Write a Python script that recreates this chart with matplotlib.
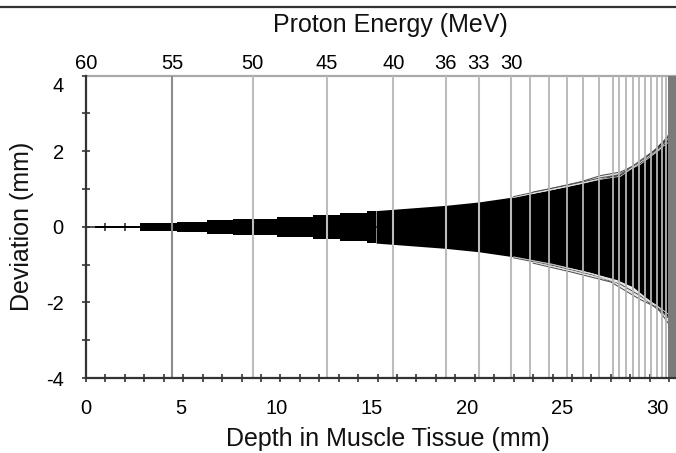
import numpy as np
import matplotlib
matplotlib.use('Agg')
import matplotlib.pyplot as plt
from matplotlib.transforms import ScaledTranslation
from matplotlib.lines import Line2D

plt.rcParams['font.family'] = ['Liberation Sans', 'DejaVu Sans']

# ---------------- data ----------------
energy_labels = ['60', '55', '50', '45', '40', '36', '33', '30']
energy_depths = [0.0, 4.42, 8.58, 12.40, 15.81, 18.50, 20.20, 21.88]
extra_line_depths = [22.84, 23.82, 24.73, 25.58, 26.40, 27.09, 27.43, 27.78,
                     28.12, 28.46, 28.77, 29.06, 29.36, 29.63, 29.84]

# stepped envelope of the beam (early part)
step_edges = [0.46, 2.78, 4.68, 6.22, 7.56, 9.83, 11.68, 13.07, 14.45, 14.92]
step_half = [0.03, 0.105, 0.13, 0.18, 0.21, 0.26, 0.32, 0.37, 0.43]

# smooth envelope (later part)
smooth_depth = [14.92, 18.52, 20.22, 21.96, 23.82, 25.57, 27.26, 28.14, 29.17, 29.84, 29.95]
smooth_half = [0.43, 0.57, 0.66, 0.79, 0.97, 1.16, 1.39, 1.59, 2.03, 2.38, 2.40]

# a few outer trajectories
traj_up1_d = [22.0, 24.0, 25.5, 26.5, 27.5, 28.5, 29.5, 29.95]
traj_up1_v = [0.80, 1.02, 1.20, 1.36, 1.45, 1.70, 2.10, 2.42]
traj_up2_d = [23.0, 25.0, 26.5, 27.5, 28.5, 29.3, 29.95]
traj_up2_v = [0.92, 1.13, 1.30, 1.38, 1.75, 2.05, 2.30]
traj_lo1_d = [22.0, 24.0, 26.0, 27.5, 28.5, 29.5, 29.95]
traj_lo1_v = [-0.82, -1.02, -1.27, -1.52, -1.82, -2.22, -2.55]
traj_lo2_d = [23.0, 25.0, 27.0, 28.5, 29.3, 29.95]
traj_lo2_v = [-0.96, -1.20, -1.46, -1.92, -2.12, -2.38]

x_major = [0, 5, 10, 15, 20, 25, 30]
y_major = [-4, -2, 0, 2, 4]

# ---------------- figure ----------------
W, H = 676, 453
fig = plt.figure(figsize=(W / 100, H / 100), dpi=100)
ax = fig.add_axes([86 / W, (H - 378) / H, (676 - 86) / W, (378 - 75.7) / H])
ax.set_xlim(0, 30.35)
ax.set_ylim(-4, 4)

dark = '#333333'

# beam envelope
xs = np.repeat(step_edges, 2)[1:-1]
hs = np.repeat(step_half, 2)
ax.fill_between(xs, -hs, hs, color='black', lw=0, zorder=2)
sd = np.array(smooth_depth)
sh = np.array(smooth_half)
ax.fill_between(sd, -sh, sh, color='black', lw=0, zorder=2)

for d, v in [(traj_up1_d, traj_up1_v), (traj_up2_d, traj_up2_v),
             (traj_lo1_d, traj_lo1_v), (traj_lo2_d, traj_lo2_v)]:
    ax.plot(d, v, color='#555555', lw=0.8, zorder=3)
    ax.plot(d, np.array(v) * 0.97, color='#dddddd', lw=0.6, zorder=3)

# zero line with cross ticks
ax.axhline(0, color=dark, lw=1.2, zorder=1.5)
ax.plot(np.arange(1, 31), np.zeros(30), ls='none', marker='|', ms=6,
        mew=1.2, color=dark, zorder=1.6)

# energy iso-lines
for i, d in enumerate(energy_depths[1:]):
    col = '#8c8c8c' if i == 0 else '#bcbcbc'
    ax.axvline(d, color=col, lw=1.5, zorder=4)
for d in extra_line_depths:
    ax.axvline(d, color='#b5b5b5', lw=1.3, zorder=4)
ax.axvspan(29.95, 30.35, color='#7a7a7a', lw=0, zorder=4)

# spines
ax.spines['right'].set_visible(False)
ax.spines['top'].set_color('#aaaaaa')
ax.spines['top'].set_linewidth(1.6)
for s in ('left', 'bottom'):
    ax.spines[s].set_color(dark)
    ax.spines[s].set_linewidth(1.6)
    ax.spines[s].set_zorder(5)

ax.set_xticks(x_major)
ax.set_xticks(np.arange(0, 31), minor=True)
ax.set_xticklabels([str(v) for v in x_major])
ax.set_yticks(y_major)
ax.set_yticks(np.arange(-4, 5), minor=True)
ax.set_yticklabels([str(v) for v in y_major])
ax.tick_params(which='both', direction='inout', length=6, width=1.2,
               color=dark, labelsize=14.5, top=False, right=False)
ax.tick_params(axis='x', pad=12)
ax.tick_params(axis='y', pad=13)

# top energy axis (twiny shares the y axis, so leave y alone)
ax2 = ax.twiny()
ax2.set_xlim(ax.get_xlim())
ax2.set_xticks(energy_depths)
ax2.set_xticklabels(energy_labels)
ax2.tick_params(axis='x', length=0, pad=2, labelsize=14.5)
for s in ax2.spines.values():
    s.set_visible(False)

# small label offsets as in the reference
for lab in ax.get_yticklabels():
    if lab.get_text() == '4':
        lab.set_transform(lab.get_transform() +
                          ScaledTranslation(0, -9 / 100, fig.dpi_scale_trans))
for lab, v in zip(ax.get_xticklabels(), x_major):
    lab.set_transform(lab.get_transform() +
                      ScaledTranslation(-0.4 * v / 100, 0, fig.dpi_scale_trans))

# labels
fig.text(390 / W, 1 - 32 / H, 'Proton Energy (MeV)', ha='center',
         va='baseline', fontsize=18, color='#111111')
fig.text(388 / W, 1 - 446 / H, 'Depth in Muscle Tissue (mm)', ha='center',
         va='baseline', fontsize=18, color='#111111')
fig.text(22 / W, 1 - 226 / H, 'Deviation (mm)', ha='center', va='center',
         rotation=90, fontsize=18, color='#111111')

# top rule
fig.add_artist(Line2D([0, 1], [1 - 6.5 / H, 1 - 6.5 / H], color='#333333',
                      lw=1.6, transform=fig.transFigure))

fig.savefig('out.png', dpi=100)
